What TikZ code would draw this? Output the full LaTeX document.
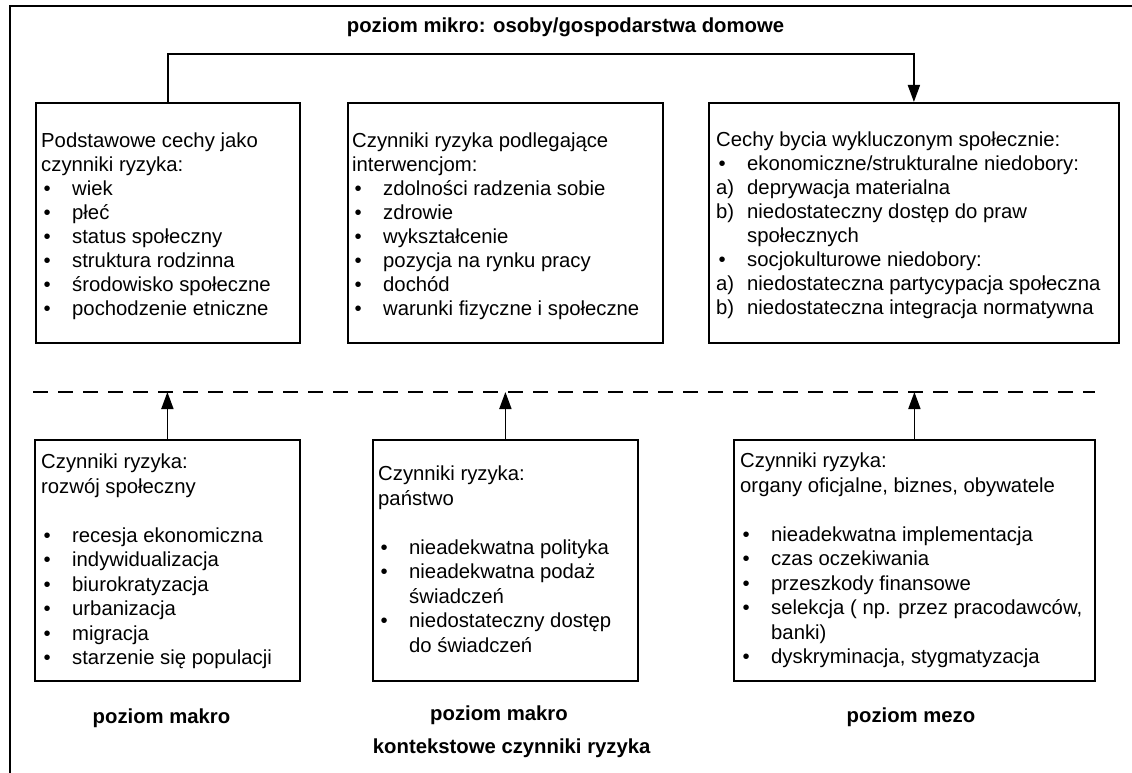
\documentclass[tikz,border=0pt]{standalone}
\usepackage{fontspec}
\setmainfont{Liberation Sans}
\usetikzlibrary{arrows.meta}
\newcommand{\bodyf}{\fontsize{20.3}{24}\selectfont}
\newcommand{\bodyg}{\fontsize{20.3}{24.5}\selectfont}
\newcommand{\myb}[1]{\strut\hspace*{2.5pt}\makebox[28.5pt][l]{\textbullet}#1}
\newcommand{\mylab}[2]{\strut\makebox[31pt][l]{#1}#2}
\newcommand{\mycont}[1]{\strut\hspace*{31pt}#1}
\begin{document}
\begin{tikzpicture}[x=1pt,y=-1pt,
  frame/.style={line width=2pt},
  box/.style={draw, line width=1.8pt, anchor=north west, inner sep=0pt},
  txt/.style={anchor=north west, inner sep=0pt, align=left, font=\bodyf},
  txtb/.style={anchor=north west, inner sep=0pt, align=left, font=\bodyg},
  lab/.style={anchor=base, inner sep=0pt, font=\bodyf\bfseries},
  conn/.style={line width=1.8pt},
  arr/.style={line width=1.8pt, -{Triangle[length=17pt,width=12pt]}},
  sep/.style={line width=1.8pt, dash pattern=on 15pt off 10pt}]
\useasboundingbox (0,0) rectangle (1132,773);
% outer frame (open at right and bottom)
\coordinate (fbl) at (10,773);
\coordinate (ftl) at (10,6);
\coordinate (ftr) at (1132,6);
\draw[frame] (fbl) -- (ftl) -- (ftr);

% title
\node[lab] (title) at (565.5,33) {poziom mikro: osoby/gospodarstwa domowe};

% top boxes
\node[box, minimum width=264pt, minimum height=240pt] (b1) at (35,102) {};
\node[box, minimum width=315pt, minimum height=240pt] (b2) at (347,102) {};
\node[box, minimum width=410pt, minimum height=240pt] (b3) at (708,102) {};

\node[txt] (t1) at (41,130.2) {\strut Podstawowe cechy jako\\
\strut czynniki ryzyka:\\
\myb{wiek}\\
\myb{płeć}\\
\myb{status społeczny}\\
\myb{struktura rodzinna}\\
\myb{środowisko społeczne}\\
\myb{pochodzenie etniczne}};

\node[txt] (t2) at (352,130.2) {\strut Czynniki ryzyka podlegające\\
\strut interwencjom:\\
\myb{zdolności radzenia sobie}\\
\myb{zdrowie}\\
\myb{wykształcenie}\\
\myb{pozycja na rynku pracy}\\
\myb{dochód}\\
\myb{warunki fizyczne i społeczne}};

\node[txt] (t3) at (716,129.2) {\strut Cechy bycia wykluczonym społecznie:\\
\myb{ekonomiczne/strukturalne niedobory:}\\
\mylab{a)}{deprywacja materialna}\\
\mylab{b)}{niedostateczny dostęp do praw}\\
\mycont{społecznych}\\
\myb{socjokulturowe niedobory:}\\
\mylab{a)}{niedostateczna partycypacja społeczna}\\
\mylab{b)}{niedostateczna integracja normatywna}};

% connector micro level
\coordinate (topmid) at (540,54);
\draw[conn] (b1.north) |- (topmid);
\draw[arr] (topmid) -| (b3.north);

% dashed separator
\coordinate (dl) at (33,392);
\coordinate (dr) at (1095,392);
\draw[sep] (dl) -- (dr);

% bottom boxes
\node[box, minimum width=265pt, minimum height=241pt] (b4) at (34,439) {};
\node[box, minimum width=265pt, minimum height=241pt] (b5) at (372,439) {};
\node[box, minimum width=361pt, minimum height=241pt] (b6) at (733,439) {};

\node[txtb] (t4) at (41,451.2) {\strut Czynniki ryzyka:\\
\strut rozwój społeczny\\
\strut\\
\myb{recesja ekonomiczna}\\
\myb{indywidualizacja}\\
\myb{biurokratyzacja}\\
\myb{urbanizacja}\\
\myb{migracja}\\
\myb{starzenie się populacji}};

\node[txtb] (t5) at (378,463.2) {\strut Czynniki ryzyka:\\
\strut państwo\\
\strut\\
\myb{nieadekwatna polityka}\\
\myb{nieadekwatna podaż}\\
\mycont{świadczeń}\\
\myb{niedostateczny dostęp}\\
\mycont{do świadczeń}};

\node[txtb] (t6) at (740,450.2) {\strut Czynniki ryzyka:\\
\strut organy oficjalne, biznes, obywatele\\
\strut\\
\myb{nieadekwatna implementacja}\\
\myb{czas oczekiwania}\\
\myb{przeszkody finansowe}\\
\myb{selekcja ( np. przez pracodawców,}\\
\mycont{banki)}\\
\myb{dyskryminacja, stygmatyzacja}};

% arrows to separator
\draw[arr] (b4.north) -- (b4.north |- dl);
\draw[arr] (b5.north) -- (b5.north |- dl);
\draw[arr] (b6.north) -- (b6.north |- dl);

% level labels
\node[lab] (l4) at (161.5,723) {poziom makro};
\node[lab] (l5) at (499,720) {poziom makro};
\node[lab] (l5b) at (511.7,753) {kontekstowe czynniki ryzyka};
\node[lab] (l6) at (911,722.7) {poziom mezo};
\end{tikzpicture}
\end{document}
